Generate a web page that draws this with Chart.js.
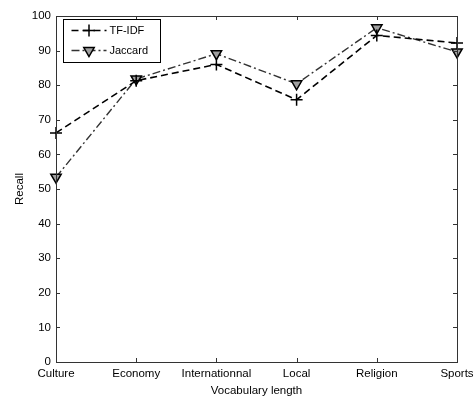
<!DOCTYPE html>
<html><head><meta charset="utf-8">
<script src="https://cdn.jsdelivr.net/npm/chart.js@4"></script>
<style>html,body{margin:0;padding:0;background:#fff}#w{width:476px;height:398px}</style>
</head><body><div id="w"><canvas id="c" width="476" height="398"></canvas></div>
<script>
const categories = ["Culture","Economy","Internationnal","Local","Religion","Sports"];
const tfidf = [66.2, 81.3, 86.0, 75.8, 94.4, 92.2];
const jaccard = [53.4, 81.8, 89.1, 80.4, 96.6, 89.6];
const yTicks = [0,10,20,30,40,50,60,70,80,90,100];
const FONT = "'Liberation Sans', Arial, sans-serif";

const frame = {
  id:'frame',
  afterDatasetsDraw(chart){
    const {ctx, chartArea:a, scales:{x,y}} = chart;
    ctx.save();
    ctx.strokeStyle='#333'; ctx.lineWidth=1;
    ctx.strokeRect(Math.round(a.left)+0.5, Math.round(a.top)+0.5, Math.round(a.right-a.left), Math.round(a.bottom-a.top));
    ctx.beginPath();
    yTicks.forEach(v=>{const py=Math.round(y.getPixelForValue(v))+0.5;
      ctx.moveTo(a.left,py);ctx.lineTo(a.left+4,py);ctx.moveTo(a.right,py);ctx.lineTo(a.right-4,py);});
    categories.forEach((c,i)=>{const px=Math.round(x.getPixelForValue(i))+0.5;
      ctx.moveTo(px,a.bottom);ctx.lineTo(px,a.bottom-4);ctx.moveTo(px,a.top);ctx.lineTo(px,a.top+4);});
    ctx.stroke();
    // legend
    const lx=63.5, ly=19.5, lw=97, lh=43;
    ctx.fillStyle='#fff'; ctx.fillRect(lx,ly,lw,lh);
    ctx.strokeStyle='#000'; ctx.strokeRect(lx,ly,lw,lh);
    const items=[{ds:chart.data.datasets[0],y:ly+11},{ds:chart.data.datasets[1],y:ly+31}];
    items.forEach(it=>{
      const ds=it.ds;
      ctx.save();
      ctx.strokeStyle=ds.borderColor; ctx.lineWidth=ds.borderWidth; ctx.setLineDash(ds.borderDash);
      ctx.beginPath(); ctx.moveTo(lx+8,it.y); ctx.lineTo(lx+43,it.y); ctx.stroke();
      ctx.restore();
      ctx.save();
      ctx.fillStyle=ds.pointBackgroundColor; ctx.strokeStyle=ds.pointBorderColor; ctx.lineWidth=ds.pointBorderWidth;
      Chart.helpers.drawPoint(ctx,{pointStyle:ds.pointStyle,rotation:ds.pointRotation,radius:ds.pointRadius,borderWidth:ds.pointBorderWidth},lx+25.5,it.y);
      ctx.restore();
      ctx.fillStyle='#000'; ctx.font='11px '+FONT; ctx.textBaseline='middle';
      ctx.fillText(ds.label,lx+46,it.y+0.5);
    });
    ctx.restore();
  }
};

new Chart(document.getElementById('c'),{
  type:'line',
  data:{labels:categories,datasets:[
    {label:'TF-IDF',data:tfidf,borderColor:'#000',borderWidth:1.6,borderDash:[7,4],
     pointStyle:'cross',pointRadius:6,pointBorderWidth:1.5,pointBorderColor:'#000',pointBackgroundColor:'#000',pointRotation:0,tension:0},
    {label:'Jaccard',data:jaccard,borderColor:'#333',borderWidth:1.4,borderDash:[8,3,2,3],
     pointStyle:'triangle',pointRotation:180,pointRadius:6,pointBorderWidth:1.5,pointBorderColor:'#000',pointBackgroundColor:'#a0a0a0',tension:0}
  ]},
  options:{
    responsive:false,animation:false,
    layout:{padding:{top:16,right:19,left:0,bottom:0}},
    plugins:{legend:{display:false},tooltip:{enabled:false}},
    scales:{
      x:{offset:false,grid:{display:false,drawTicks:false},border:{display:false},
        ticks:{color:'#000',font:{family:FONT,size:11.5},padding:5,maxRotation:0,autoSkip:false},
        title:{display:true,text:'Vocabulary length',color:'#000',font:{family:FONT,size:11.5},padding:{top:0,bottom:0}},
        afterFit(s){s.height=36;s.paddingRight=0;s.paddingLeft=0;}},
      y:{min:0,max:100,grid:{display:false,drawTicks:false},border:{display:false},
        afterBuildTicks(s){s.ticks=yTicks.map(v=>({value:v}));},
        ticks:{color:'#000',font:{family:FONT,size:11.5},padding:5},
        title:{display:true,text:'Recall',color:'#000',font:{family:FONT,size:11.5},padding:{top:13,bottom:4}},
        afterFit(s){s.width=56;s.paddingTop=0;s.paddingBottom=0;}}
    }
  },
  plugins:[frame]
});
</script></body></html>
